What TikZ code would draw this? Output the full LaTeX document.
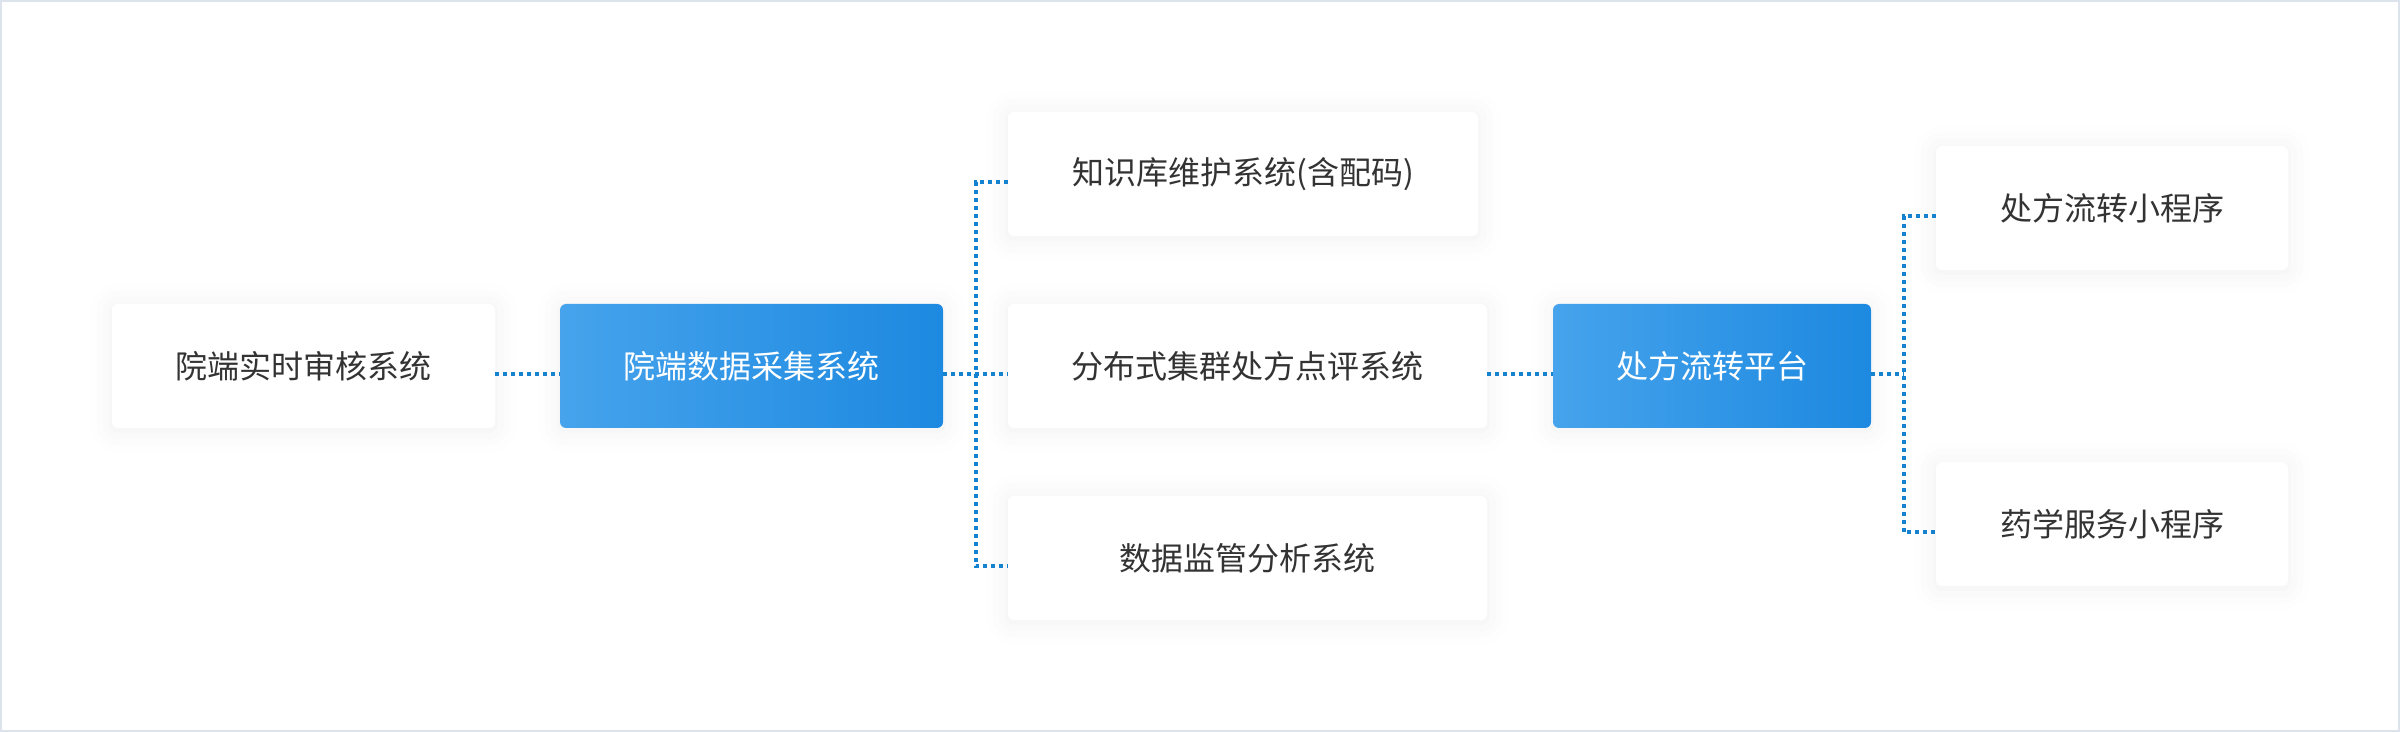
\documentclass[tikz,border=0pt]{standalone}
\usepackage{fontspec}
\newfontfamily\cjk{Noto Sans CJK SC}
\usepackage{tikz}
\usetikzlibrary{calc,shadows.blur}

\definecolor{framegray}{HTML}{DDE3EA}
\definecolor{linkblue}{HTML}{1582CF}
\definecolor{bluelight}{HTML}{46A3EC}
\definecolor{bluedark}{HTML}{1D89E0}
\definecolor{textgray}{HTML}{333333}

\begin{document}
\begin{tikzpicture}[x=0.5pt, y=-0.5pt,
	box/.style={rectangle, rounded corners=3pt, minimum height=62pt, inner sep=0pt,
		font=\cjk\fontsize{16pt}{18pt}\selectfont, text=textgray, fill=white,
		blur shadow={shadow xshift=0pt, shadow yshift=-1pt, shadow blur radius=11pt, shadow opacity=6}},
	bluebox/.style={box, text=white, left color=bluelight, right color=bluedark},
	link/.style={linkblue, line width=2pt, dash pattern=on 2pt off 2pt}]
	% Frame
	\useasboundingbox (0,0) rectangle (2400,732);
	\draw [framegray, line width=1pt] (1,1) rectangle (2399,731);
	
	% Nodes {audit, collect, knowledge, cluster, monitor, platform, miniA, miniB}
	\node [box, minimum width=191.5pt] 		(audit) 	at (303.5,366) 	{院端实时审核系统};
	\node [bluebox, minimum width=191.5pt] 	(collect) 	at (751.5,366) 	{院端数据采集系统};
	\node [box, minimum width=235pt] 		(knowledge) at (1243,174) 	{知识库维护系统(含配码)};
	\node [box, minimum width=239.5pt] 		(cluster) 	at (1247.5,366) {分布式集群处方点评系统};
	\node [box, minimum width=239.5pt] 		(monitor) 	at (1247.5,558) {数据监管分析系统};
	\node [bluebox, minimum width=159pt] 	(platform) 	at (1712,366) 	{处方流转平台};
	\node [box, minimum width=176pt] 		(miniA) 	at (2112,208) 	{处方流转小程序};
	\node [box, minimum width=176pt] 		(miniB) 	at (2112,524) 	{药学服务小程序};
	
	% Junctions
	\coordinate (j1) at ($(collect.east)!0.5!(cluster.west)$);
	\coordinate (j2) at ($(platform.east)!0.5!(miniA.west |- platform.east)$);
	
	% Paths
	\draw [link] 	([yshift=-4pt]audit.east) -- ([yshift=-4pt]collect.west);
	\draw [link] 	([yshift=-4pt]collect.east) -- ([yshift=-4pt]cluster.west);
	\draw [link] 	([yshift=-4pt]knowledge.west) -| ([yshift=-4pt]j1) |- ([yshift=-4pt]monitor.west);
	\draw [link] 	([yshift=-4pt]cluster.east) -- ([yshift=-4pt]platform.west);
	\draw [link] 	([yshift=-4pt]platform.east) -- ([yshift=-4pt]j2);
	\draw [link] 	([yshift=-4pt]miniA.west) -| ([yshift=-4pt]j2) |- ([yshift=-4pt]miniB.west);
	
\end{tikzpicture}
\end{document}
